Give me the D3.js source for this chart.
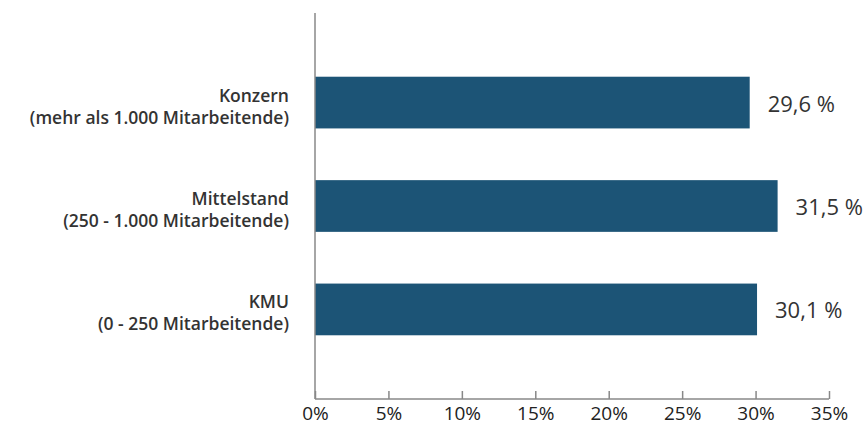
<!DOCTYPE html>
<html>
<head>
<meta charset="utf-8">
<script src="https://cdn.jsdelivr.net/npm/d3@7"></script>
<style>
  body { margin: 0; background: #fff; }
  svg { display: block; }
</style>
</head>
<body>
<div id="chart"></div>
<script>
// Data
const categories = [
    ["Konzern", "(mehr als 1.000 Mitarbeitende)"],
    ["Mittelstand", "(250 - 1.000 Mitarbeitende)"],
    ["KMU", "(0 - 250 Mitarbeitende)"]
];
const values = [29.6, 31.5, 30.1];
const tickValues = [0, 5, 10, 15, 20, 25, 30, 35];

const W = 865, H = 426;
const x0 = 315, x1 = 829, axisY = 399, axisTop = 13;

const x = d3.scaleLinear().domain([0, 35]).range([x0, x1]);
const y = d3.scaleBand()
    .domain(d3.range(categories.length))
    .range([25, 387])
    .paddingInner(0.5)
    .paddingOuter(0.5);

const svg = d3.select("#chart")
    .append("svg")
    .attr("width", W)
    .attr("height", H);

// Bars
svg.selectAll(".bar")
    .data(values)
    .enter().append("rect")
    .attr("class", "bar")
    .attr("x", x(0))
    .attr("y", (d, i) => y(i))
    .attr("width", d => x(d) - x(0))
    .attr("height", y.bandwidth())
    .attr("fill", "#1c5476");

// Value labels
svg.selectAll(".val")
    .data(values)
    .enter().append("text")
    .attr("class", "val")
    .attr("x", d => x(d) + 18)
    .attr("y", (d, i) => y(i) + y.bandwidth() / 2 + 9)
    .attr("font-family", "'Open Sans', sans-serif")
    .attr("font-size", 22)
    .attr("fill", "#333")
    .text(d => d3.format(".1f")(d).replace(".", ",") + " %");

// Category labels
const cat = svg.selectAll(".cat")
    .data(categories)
    .enter().append("text")
    .attr("class", "cat")
    .attr("text-anchor", "end")
    .attr("font-family", "'Open Sans', sans-serif")
    .attr("font-weight", 600)
    .attr("font-size", 17.5)
    .attr("fill", "#333");
cat.append("tspan")
    .attr("x", 289)
    .attr("y", (d, i) => y(i) + y.bandwidth() / 2 - 1)
    .text(d => d[0]);
cat.append("tspan")
    .attr("x", 289)
    .attr("y", (d, i) => y(i) + y.bandwidth() / 2 + 21)
    .text(d => d[1]);

// X axis
const xAxis = svg.append("g")
    .attr("transform", "translate(0," + axisY + ")")
    .call(d3.axisBottom(x).tickValues(tickValues).tickSize(-8).tickPadding(0).tickFormat(d => d + "%"));
xAxis.select(".domain").attr("stroke", "#888").attr("stroke-width", 1.5).attr("d", "M" + x0 + ",0H" + x1);
xAxis.selectAll(".tick line").attr("stroke", "#888").attr("stroke-width", 1.5);
xAxis.selectAll(".tick text")
    .attr("y", 21)
    .attr("dy", 0)
    .attr("font-family", "'Open Sans', sans-serif")
    .attr("font-size", 19)
    .attr("fill", "#222");

// Y axis line
svg.append("line")
    .attr("x1", x0).attr("x2", x0)
    .attr("y1", axisTop).attr("y2", axisY)
    .attr("stroke", "#888")
    .attr("stroke-width", 1.5);
</script>
</body>
</html>
